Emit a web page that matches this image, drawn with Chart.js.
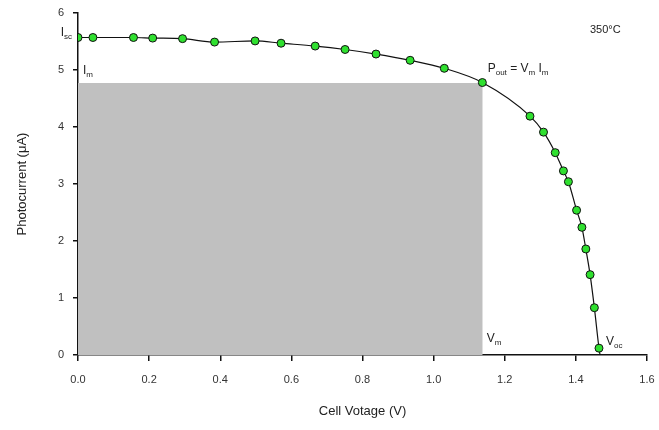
<!DOCTYPE html>
<html>
<head>
<meta charset="utf-8">
<script src="https://cdn.jsdelivr.net/npm/chart.js@4.4.1/dist/chart.umd.min.js"></script>
<style>
html,body{margin:0;padding:0;background:#fff;}
#c{display:block;}
</style>
</head>
<body>
<canvas id="c" width="659" height="430"></canvas>
<script>
// Measured data (Cell voltage in V, photocurrent in µA)
const voltage = [0.000,0.042,0.156,0.210,0.294,0.384,0.498,0.571,0.667,0.751,0.838,0.934,1.030,1.137,1.271,1.309,1.342,1.365,1.379,1.402,1.417,1.428,1.440,1.452,1.465];
const current = [5.57,5.57,5.57,5.56,5.55,5.49,5.51,5.47,5.42,5.36,5.28,5.17,5.03,4.78,4.19,3.91,3.55,3.23,3.04,2.54,2.24,1.86,1.41,0.83,0.12];
// Open-circuit end of the fitted curve
const vocPoint = {x: 1.468, y: 0};
// Maximum power point
const Vm = 1.138;
const Im = 4.77;
const Isc = 5.57;
const Voc = 1.468;
// Tick labels
const xTickLabels = ['0.0','0.2','0.4','0.6','0.8','1.0','1.2','1.4','1.6'];
const yTickLabels = ['0','1','2','3','4','5','6'];

const points = voltage.map((v,i)=>({x:v,y:current[i]}));
const curve = points.concat([vocPoint]);
const rect = [{x:0,y:Im},{x:Vm,y:Im}];

const FONT = 'Liberation Sans, Arial, sans-serif';

const labelsPlugin = {
  id:'labels',
  afterDatasetsDraw(chart){
    const ctx = chart.ctx;
    const xs = chart.scales.x, ys = chart.scales.y;
    function sub(parts, x, y, align){
      ctx.save();
      ctx.fillStyle = '#222';
      ctx.textBaseline = 'alphabetic';
      let w = 0;
      const measured = parts.map(p=>{
        ctx.font = (p[1] ? '8px ' : '12px ') + FONT;
        const m = ctx.measureText(p[0]).width;
        w += m;
        return m;
      });
      let cx = align === 'right' ? x - w : x;
      parts.forEach((p,i)=>{
        ctx.font = (p[1] ? '8px ' : '12px ') + FONT;
        ctx.textAlign = 'left';
        ctx.fillText(p[0], cx, p[1] ? y + 3 : y);
        cx += measured[i];
      });
      ctx.restore();
    }
    sub([['I',false],['sc',true]], xs.getPixelForValue(0) - 6, ys.getPixelForValue(Isc) - 2, 'right');
    sub([['I',false],['m',true]], xs.getPixelForValue(0) + 5, ys.getPixelForValue(Im) - 9, 'left');
    sub([['P',false],['out',true],[' = V',false],['m',true],[' I',false],['m',true]], xs.getPixelForValue(Vm) + 5, ys.getPixelForValue(Im) - 11, 'left');
    sub([['V',false],['m',true]], xs.getPixelForValue(Vm) + 4, ys.getPixelForValue(0) - 13, 'left');
    sub([['V',false],['oc',true]], xs.getPixelForValue(Voc) + 6, ys.getPixelForValue(0) - 10, 'left');
    ctx.save();
    ctx.font = '11px ' + FONT;
    ctx.fillStyle = '#222';
    ctx.textAlign = 'left';
    ctx.fillText('350°C', 590, 33);
    ctx.restore();
  }
};

new Chart(document.getElementById('c'), {
  type:'scatter',
  data:{
    datasets:[
      {
        label:'Pmax',
        data:rect,
        showLine:true,
        borderWidth:0,
        pointRadius:0,
        fill:'origin',
        backgroundColor:'#c0c0c0',
        borderColor:'rgba(0,0,0,0)',
        order:3
      },
      {
        label:'fit',
        data:curve,
        showLine:true,
        borderColor:'#111',
        borderWidth:1.2,
        pointRadius:0,
        cubicInterpolationMode:'monotone',
        fill:false,
        order:2
      },
      {
        label:'data',
        data:points,
        showLine:false,
        pointRadius:4,
        pointBackgroundColor:'#2fe02f',
        pointBorderColor:'#111',
        pointBorderWidth:1,
        order:1
      }
    ]
  },
  options:{
    responsive:false,
    animation:false,
    events:[],
    layout:{padding:{left:0,right:12,top:13,bottom:0}},
    plugins:{legend:{display:false},tooltip:{enabled:false}},
    scales:{
      x:{
        type:'linear', min:0, max:1.6,
        afterFit(s){ s.height = 75; s.paddingRight = 0; s.paddingLeft = 0; },
        afterBuildTicks(s){ s.ticks = xTickLabels.map((t,i)=>({value:i*0.2})); },
        ticks:{
          callback:(v,i)=>xTickLabels[i],
          font:{family:FONT,size:11}, color:'#333', padding:12, maxRotation:0, autoSkip:false
        },
        grid:{display:true, drawOnChartArea:false, drawTicks:true, tickLength:6, color:'#111', lineWidth:1.5},
        border:{display:true, color:'#111', width:1.5},
        title:{display:true, text:'Cell Votage (V)', font:{family:FONT,size:13}, color:'#222', padding:{top:6,bottom:11}}
      },
      y:{
        type:'linear', min:0, max:6,
        afterFit(s){ s.width = 78; s.paddingTop = 0; s.paddingBottom = 0; },
        afterBuildTicks(s){ s.ticks = yTickLabels.map((t,i)=>({value:i})); },
        ticks:{
          callback:(v,i)=>yTickLabels[i],
          font:{family:FONT,size:11}, color:'#333', padding:9
        },
        grid:{display:true, drawOnChartArea:false, drawTicks:true, tickLength:5, color:'#111', lineWidth:1.5},
        border:{display:true, color:'#111', width:1.5},
        title:{display:true, text:'Photocurrent (μA)', font:{family:FONT,size:13}, color:'#222', padding:{top:15,bottom:0}}
      }
    }
  },
  plugins:[labelsPlugin]
});
</script>
</body>
</html>
